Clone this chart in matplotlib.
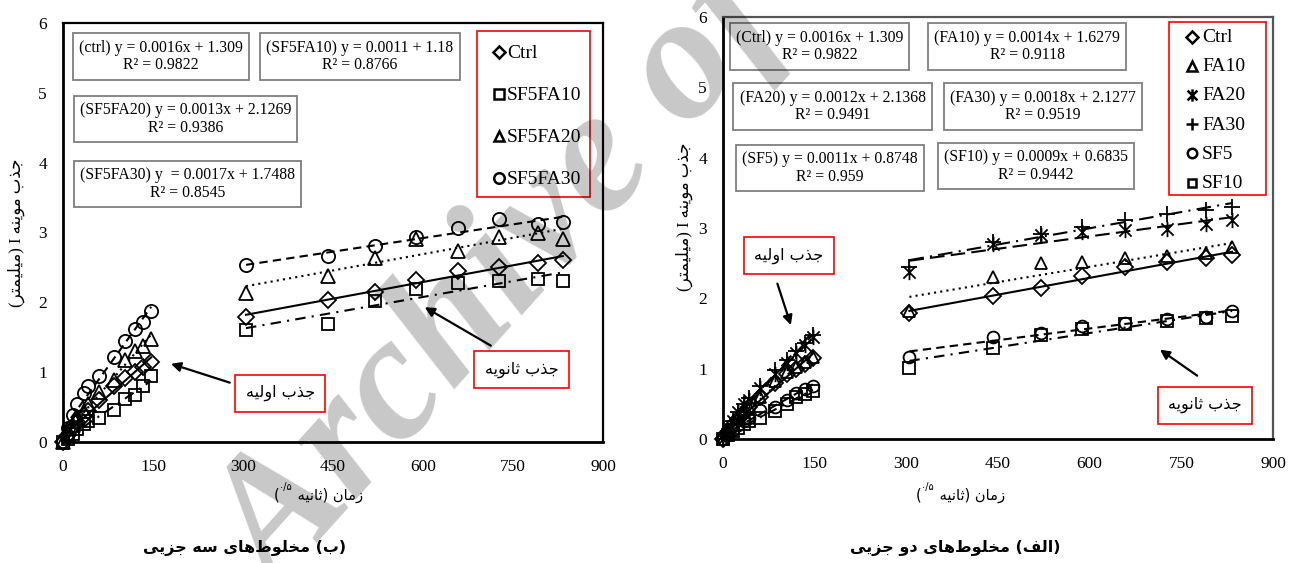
import numpy as np
import matplotlib.pyplot as plt
from matplotlib.lines import Line2D
from matplotlib.patches import Rectangle
from matplotlib.path import Path

plt.rcParams['font.family'] = ['Liberation Serif', 'DejaVu Sans']

# square root of elapsed time (s^0.5) for the readings
t_initial = [0, 8, 17, 24, 35, 42, 60, 85, 104, 120, 134, 147]
t_secondary = [305, 441, 520, 588, 658, 727, 791, 833]

# capillary rise I (mm), three-component mixes
ctrl_init = [0, 0.10, 0.20, 0.28, 0.37, 0.45, 0.60, 0.80, 0.92, 1.00, 1.07, 1.15]
ctrl_sec = [1.79, 2.03, 2.15, 2.32, 2.45, 2.51, 2.57, 2.61]
sf5fa10_init = [0, 0.05, 0.12, 0.18, 0.26, 0.30, 0.34, 0.46, 0.62, 0.67, 0.80, 0.94]
sf5fa10_sec = [1.60, 1.69, 2.02, 2.19, 2.27, 2.31, 2.33, 2.30]
sf5fa20_init = [0, 0.12, 0.25, 0.35, 0.45, 0.55, 0.72, 0.89, 1.18, 1.30, 1.38, 1.47]
sf5fa20_sec = [2.13, 2.38, 2.64, 2.90, 2.74, 2.94, 2.99, 2.90]
sf5fa30_init = [0, 0.20, 0.38, 0.55, 0.70, 0.80, 0.95, 1.22, 1.45, 1.62, 1.72, 1.87]
sf5fa30_sec = [2.53, 2.67, 2.80, 2.93, 3.06, 3.19, 3.12, 3.15]

# capillary rise I (mm), two-component mixes
fa10_init = [0, 0.10, 0.20, 0.30, 0.40, 0.46, 0.60, 0.82, 0.95, 1.03, 1.10, 1.17]
fa10_sec = [1.82, 2.30, 2.50, 2.52, 2.57, 2.60, 2.64, 2.73]
fa20_init = [0, 0.12, 0.25, 0.38, 0.50, 0.55, 0.72, 0.93, 1.08, 1.22, 1.33, 1.45]
fa20_sec = [2.38, 2.77, 2.90, 2.95, 2.97, 2.98, 3.05, 3.12]
fa30_init = [0, 0.12, 0.26, 0.38, 0.50, 0.58, 0.75, 0.98, 1.12, 1.25, 1.36, 1.48]
fa30_sec = [2.45, 2.80, 2.92, 3.02, 3.12, 3.20, 3.26, 3.30]
sf5_init = [0, 0.06, 0.13, 0.20, 0.26, 0.30, 0.41, 0.45, 0.55, 0.65, 0.71, 0.76]
sf5_sec = [1.17, 1.45, 1.51, 1.60, 1.65, 1.70, 1.74, 1.82]
sf10_init = [0, 0.05, 0.11, 0.16, 0.22, 0.25, 0.30, 0.40, 0.50, 0.60, 0.64, 0.68]
sf10_sec = [1.01, 1.30, 1.48, 1.56, 1.64, 1.68, 1.72, 1.75]

labels_b = ['Ctrl', 'SF5FA10', 'SF5FA20', 'SF5FA30']
labels_a = ['Ctrl', 'FA10', 'FA20', 'FA30', 'SF5', 'SF10']

eq_b = ['(ctrl) y = 0.0016x + 1.309\nR\u00b2 = 0.9822',
        '(SF5FA10) y = 0.0011 + 1.18\nR\u00b2 = 0.8766',
        '(SF5FA20) y = 0.0013x + 2.1269\nR\u00b2 = 0.9386',
        '(SF5FA30) y  = 0.0017x + 1.7488\nR\u00b2 = 0.8545']
eq_a = ['(Ctrl) y = 0.0016x + 1.309\nR\u00b2 = 0.9822',
        '(FA10) y = 0.0014x + 1.6279\nR\u00b2 = 0.9118',
        '(FA20) y = 0.0012x + 2.1368\nR\u00b2 = 0.9491',
        '(FA30) y = 0.0018x + 2.1277\nR\u00b2 = 0.9519',
        '(SF5) y = 0.0011x + 0.8748\nR\u00b2 = 0.959',
        '(SF10) y = 0.0009x + 0.6835\nR\u00b2 = 0.9442']

txt_initial = '\u062c\u0630\u0628 \u0627\u0648\u0644\u06cc\u0647'
txt_secondary = '\u062c\u0630\u0628 \u062b\u0627\u0646\u0648\u06cc\u0647'
txt_rise = '\u062c\u0630\u0628 \u0645\u0648\u06cc\u0646\u0647'
txt_mm = '\u0645\u06cc\u0644\u06cc\u0645\u062a\u0631'
txt_time = '\u0632\u0645\u0627\u0646'
txt_second = '\u062b\u0627\u0646\u06cc\u0647'
txt_three = '\u0645\u062e\u0644\u0648\u0637\u200c\u0647\u0627\u06cc \u0633\u0647 \u062c\u0632\u06cc\u06cc'
txt_two = '\u0645\u062e\u0644\u0648\u0637\u200c\u0647\u0627\u06cc \u062f\u0648 \u062c\u0632\u06cc\u06cc'

# contextual forms (isolated, final, initial, medial) for the Persian letters used
FA_FORMS = {
    '\u0627': (0xFE8D, 0xFE8E, None, None),
    '\u0628': (0xFE8F, 0xFE90, 0xFE91, 0xFE92),
    '\u062a': (0xFE95, 0xFE96, 0xFE97, 0xFE98),
    '\u062b': (0xFE99, 0xFE9A, 0xFE9B, 0xFE9C),
    '\u062c': (0xFE9D, 0xFE9E, 0xFE9F, 0xFEA0),
    '\u062e': (0xFEA5, 0xFEA6, 0xFEA7, 0xFEA8),
    '\u062f': (0xFEA9, 0xFEAA, None, None),
    '\u0630': (0xFEAB, 0xFEAC, None, None),
    '\u0631': (0xFEAD, 0xFEAE, None, None),
    '\u0632': (0xFEAF, 0xFEB0, None, None),
    '\u0633': (0xFEB1, 0xFEB2, 0xFEB3, 0xFEB4),
    '\u0637': (0xFEC1, 0xFEC2, 0xFEC3, 0xFEC4),
    '\u0641': (0xFED1, 0xFED2, 0xFED3, 0xFED4),
    '\u0644': (0xFEDD, 0xFEDE, 0xFEDF, 0xFEE0),
    '\u0645': (0xFEE1, 0xFEE2, 0xFEE3, 0xFEE4),
    '\u0646': (0xFEE5, 0xFEE6, 0xFEE7, 0xFEE8),
    '\u0647': (0xFEE9, 0xFEEA, 0xFEEB, 0xFEEC),
    '\u0648': (0xFEED, 0xFEEE, None, None),
    '\u06cc': (0xFEEF, 0xFEF0, 0xFEF3, 0xFEF4),
}


def fa(text):
    """Shape a right-to-left Persian run and return it in visual order."""
    out = []
    for i, ch in enumerate(text):
        if ch not in FA_FORMS:
            if ch != '\u200c':
                out.append(ch)
            continue
        prev = text[i - 1] if i > 0 else ''
        nxt = text[i + 1] if i + 1 < len(text) else ''
        iso, fin, ini, med = FA_FORMS[ch]
        join_prev = prev in FA_FORMS and FA_FORMS[prev][2] is not None
        join_next = nxt in FA_FORMS and ini is not None
        if join_prev and join_next:
            code = med
        elif join_prev:
            code = fin
        elif join_next:
            code = ini
        else:
            code = iso
        out.append(chr(code))
    return ''.join(reversed(out))


W, H = 1295, 563


def fxy(px, py):
    # pixel position on the page -> figure fraction
    return px / W, 1 - py / H


star = Path([(-1, -1), (1, 1), (-1, 1), (1, -1), (0, -1.25), (0, 1.25)],
            [Path.MOVETO, Path.LINETO] * 3)

STYLES = {
    'Ctrl': ('D', '-', 8),
    'SF5FA10': ('s', (0, (5, 3, 1, 3)), 9),
    'SF5FA20': ('^', (0, (1, 2)), 9.5),
    'SF5FA30': ('o', (0, (4, 2.5)), 9.5),
    'FA10': ('^', (0, (1, 2)), 8.5),
    'FA20': (star, (0, (7, 3)), 11),
    'FA30': ('+', (0, (7, 3, 1, 3)), 11),
    'SF5': ('o', (0, (4, 2.5)), 8.5),
    'SF10': ('s', (0, (5, 3, 1, 3)), 8),
}


def draw_series(ax, name, y_init, y_sec):
    marker, ls, ms = STYLES[name]
    for t, y in ((t_initial, y_init), (t_secondary, y_sec)):
        t = np.asarray(t, float)
        y = np.asarray(y, float)
        k, b = np.polyfit(t, y, 1)
        xs = np.array([t.min(), t.max()])
        ax.plot(xs, k * xs + b, color='k', lw=1.5, linestyle=ls, zorder=2)
        ax.plot(t, y, ls='none', marker=marker, ms=ms, mfc='none', mec='k',
                mew=1.3, clip_on=False, zorder=3)


def style_axes(ax, frame_color):
    ax.set_xlim(0, 900)
    ax.set_ylim(0, 6)
    ax.set_xticks(range(0, 901, 150))
    ax.set_yticks(range(0, 7))
    ax.tick_params(length=0, labelsize=12.5)
    ax.tick_params(axis='x', pad=12)
    ax.tick_params(axis='y', pad=11.5)
    ax.patch.set_alpha(0)
    for side in ('left', 'bottom'):
        ax.spines[side].set_linewidth(2)
        ax.spines[side].set_color('k')
    for side in ('top', 'right'):
        ax.spines[side].set_linewidth(1.6)
        ax.spines[side].set_color(frame_color)


def eq_box(text, cx, cy):
    fig.text(*fxy(cx, cy), text, ha='center', va='center', fontsize=11.3,
             family='Liberation Serif', linespacing=1.15, multialignment='center',
             bbox=dict(boxstyle='square,pad=0.4', fc='white', ec='#7f7f7f', lw=1.3))


def note(ax, text, box_xy, tail_xy, head_xy):
    ax.annotate('', xy=head_xy, xytext=tail_xy,
                arrowprops=dict(arrowstyle='-|>', color='k', lw=1.6,
                                mutation_scale=14, shrinkA=0, shrinkB=0))
    ax.text(*box_xy, fa(text), ha='center', va='center', fontsize=11.5,
            family=['DejaVu Sans'],
            bbox=dict(boxstyle='square,pad=0.65', fc='white', ec='red', lw=1.2))


def legend_box(names, box, first_row, pitch, marker_x, text_x):
    x0, y0, x1, y1 = box
    fig.add_artist(Rectangle(fxy(x0, y1), (x1 - x0) / W, (y1 - y0) / H,
                             transform=fig.transFigure, fill=False, ec='red', lw=1.2))
    for i, name in enumerate(names):
        marker, _, ms = STYLES[name]
        ry = first_row + i * pitch
        mx, my = fxy(marker_x, ry)
        fig.add_artist(Line2D([mx], [my], transform=fig.transFigure, ls='none',
                              marker=marker, ms=ms * 0.8, mfc='none', mec='k', mew=1.8))
        fig.text(*fxy(text_x, ry + 1), name, ha='left', va='center', fontsize=14,
                 family='Liberation Serif')


def x_label(ax, cx, cy):
    main = fig.text(*fxy(cx, cy), ' ' + fa(txt_second) + ') ' + fa(txt_time),
                    ha='center', va='center', fontsize=10.5, family=['DejaVu Sans'])
    sup = ax.annotate('\u06f0/\u06f5', xy=(0, 0.7), xycoords=main, ha='right',
                      va='bottom', fontsize=7, family=['DejaVu Sans'],
                      annotation_clip=False)
    ax.annotate('(', xy=(0, 0), xycoords=(sup, main), ha='right', va='bottom',
                fontsize=10.5, family=['DejaVu Sans'], annotation_clip=False)


fig = plt.figure(figsize=(12.95, 5.63), dpi=100)

# panel (b): three-component mixes
ax_b = fig.add_axes([63 / W, 1 - 442 / H, 540 / W, 419 / H])
style_axes(ax_b, 'k')
draw_series(ax_b, 'Ctrl', ctrl_init, ctrl_sec)
draw_series(ax_b, 'SF5FA10', sf5fa10_init, sf5fa10_sec)
draw_series(ax_b, 'SF5FA20', sf5fa20_init, sf5fa20_sec)
draw_series(ax_b, 'SF5FA30', sf5fa30_init, sf5fa30_sec)
legend_box(labels_b, (477, 31, 590, 197), 52, 42, 499, 507)
for text, (cx, cy) in zip(eq_b, [(161, 56.5), (360, 56.5), (185.5, 119), (187.5, 184)]):
    eq_box(text, cx, cy)
note(ax_b, txt_initial, (362, 0.70), (278, 0.85), (180, 1.12))
note(ax_b, txt_secondary, (764, 1.04), (713, 1.38), (603, 1.93))

# panel (a): two-component mixes
ax_a = fig.add_axes([723 / W, 1 - 439 / H, 550 / W, 422 / H])
style_axes(ax_a, '#555555')
draw_series(ax_a, 'Ctrl', ctrl_init, ctrl_sec)
draw_series(ax_a, 'FA10', fa10_init, fa10_sec)
draw_series(ax_a, 'FA20', fa20_init, fa20_sec)
draw_series(ax_a, 'FA30', fa30_init, fa30_sec)
draw_series(ax_a, 'SF5', sf5_init, sf5_sec)
draw_series(ax_a, 'SF10', sf10_init, sf10_sec)
legend_box(labels_a, (1169, 22, 1266, 195), 36.5, 29.2, 1192, 1202)
for text, (cx, cy) in zip(eq_a, [(819.5, 46.5), (1027, 46.5), (832.5, 106.5),
                                  (1043, 106.5), (830, 168), (1036, 166)]):
    eq_box(text, cx, cy)
note(ax_a, txt_initial, (108, 2.61), (89, 2.21), (111, 1.62))
note(ax_a, txt_secondary, (789, 0.48), (776, 0.90), (715, 1.27))

# axis titles
ylab = '(' + fa(txt_mm) + ') I ' + fa(txt_rise)
fig.text(*fxy(16, 233), ylab, rotation=90, ha='center', va='center', fontsize=12)
fig.text(*fxy(684, 217), ylab, rotation=90, ha='center', va='center', fontsize=12)

x_label(ax_b, 328, 495)
x_label(ax_a, 970, 495)

fig.text(*fxy(245, 548), fa(txt_three) + ' (' + fa('\u0628') + ')',
         ha='center', va='center', fontsize=11.5, fontweight='bold',
         family=['DejaVu Sans'])
fig.text(*fxy(955, 548), fa(txt_two) + ' (' + fa('\u0627\u0644\u0641') + ')',
         ha='center', va='center', fontsize=11.5, fontweight='bold',
         family=['DejaVu Sans'])

# archive stamp across the page
fig.text(0.215, -0.06, 'Archive of SID', rotation=48, rotation_mode='anchor',
         ha='left', va='baseline', fontsize=128, fontweight='bold', style='italic',
         family='Liberation Serif', color='k', alpha=0.22, zorder=100)

fig.savefig('out.png', dpi=100)
